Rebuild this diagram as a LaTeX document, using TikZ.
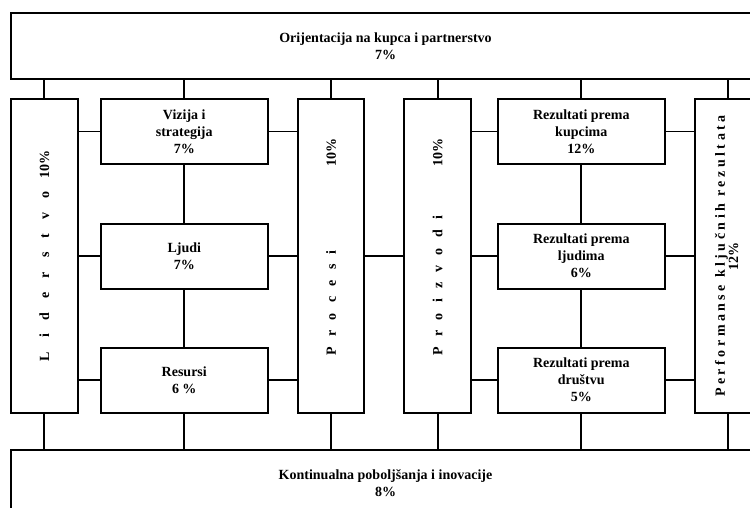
\documentclass[tikz,border=0pt]{standalone}
\usepackage{fontspec}
\setmainfont{Liberation Serif}
\usepackage{tikz}

\newcommand{\razvuci}[2]{{\addfontfeature{LetterSpace=#1}#2}}

\tikzset{
  okvir/.style={draw, line width=2pt, align=center, inner sep=0pt,
    font=\bfseries\fontsize{14}{17}\selectfont},
  siroki/.style={okvir, minimum width=749pt, minimum height=66pt},
  kolona/.style={okvir, minimum width=66.5pt, minimum height=314pt},
  polje/.style={okvir, minimum width=166.5pt, minimum height=65pt},
  veza/.style={line width=1.9pt},
}

\begin{document}
\begin{tikzpicture}[x=1pt, y=-1pt]

\useasboundingbox (0,0) rectangle (750,508);
\clip (0,0) rectangle (750,508);

%% top and bottom
\node[siroki] (vrh) at (385.5,46) {Orijentacija na kupca i partnerstvo\\7\%};
\node[siroki] (dno) at (385.5,483) {Kontinualna poboljšanja i inovacije\\8\%};

%% columns
\node[kolona] (lid) at (44.25,256)
  {\rotatebox{90}{\razvuci{100}{Liderstvo}\hspace{13pt}10\%}};
\node[kolona] (procesi) at (331,256)
  {\rotatebox{90}{\makebox[236pt]{\hspace{19pt}\razvuci{73}{Procesi}\hfill 10\%}}};
\node[kolona] (proizvodi) at (437.7,256)
  {\rotatebox{90}{\makebox[236pt]{\hspace{19pt}\razvuci{73}{Proizvodi}\hfill 10\%}}};
\node[kolona, minimum width=67pt] (perf) at (728,256)
  {\rotatebox{90}{\begin{tabular}{@{}c@{}}\razvuci{25}{Performanse ključnih rezultata}\\[-3.7pt]12\%\end{tabular}}};

%% enablers
\node[polje] (vizija) at (184.25,131.5) {Vizija i\\strategija\\7\%};
\node[polje] (ljudi) at (184.25,256) {Ljudi\\7\%};
\node[polje] (resursi) at (184.25,380) {Resursi\\6 \%};

%% results
\node[polje, minimum width=167.3pt] (rkupci) at (581.3,131.5) {Rezultati prema\\kupcima\\12\%};
\node[polje, minimum width=167.3pt] (rljudi) at (581.3,256) {Rezultati prema\\ljudima\\6\%};
\node[polje, minimum width=167.3pt] (rdrustvo) at (581.3,380) {Rezultati prema\\društvu\\5\%};

%% up to the top box
\draw[veza] (lid.north) -- (lid.north |- vrh.south);
\draw[veza] (vizija.north) -- (vizija.north |- vrh.south);
\draw[veza] (procesi.north) -- (procesi.north |- vrh.south);
\draw[veza] (proizvodi.north) -- (proizvodi.north |- vrh.south);
\draw[veza] (rkupci.north) -- (rkupci.north |- vrh.south);
\draw[veza] (perf.north) -- (perf.north |- vrh.south);

%% down to the bottom box
\draw[veza] (lid.south) -- (lid.south |- dno.north);
\draw[veza] (resursi.south) -- (resursi.south |- dno.north);
\draw[veza] (procesi.south) -- (procesi.south |- dno.north);
\draw[veza] (proizvodi.south) -- (proizvodi.south |- dno.north);
\draw[veza] (rdrustvo.south) -- (rdrustvo.south |- dno.north);
\draw[veza] (perf.south) -- (perf.south |- dno.north);

%% inside the columns
\draw[veza] (vizija) -- (ljudi);
\draw[veza] (ljudi) -- (resursi);
\draw[veza] (rkupci) -- (rljudi);
\draw[veza] (rljudi) -- (rdrustvo);

%% left side
\draw[veza] (vizija.west) -- (vizija.west -| lid.east);
\draw[veza] (ljudi.west) -- (ljudi.west -| lid.east);
\draw[veza] (resursi.west) -- (resursi.west -| lid.east);
\draw[veza] (vizija.east) -- (vizija.east -| procesi.west);
\draw[veza] (ljudi.east) -- (ljudi.east -| procesi.west);
\draw[veza] (resursi.east) -- (resursi.east -| procesi.west);

%% middle
\draw[veza] (procesi) -- (proizvodi);

%% right side
\draw[veza] (rkupci.west) -- (rkupci.west -| proizvodi.east);
\draw[veza] (rljudi.west) -- (rljudi.west -| proizvodi.east);
\draw[veza] (rdrustvo.west) -- (rdrustvo.west -| proizvodi.east);
\draw[veza] (rkupci.east) -- (rkupci.east -| perf.west);
\draw[veza] (rljudi.east) -- (rljudi.east -| perf.west);
\draw[veza] (rdrustvo.east) -- (rdrustvo.east -| perf.west);

\end{tikzpicture}
\end{document}
